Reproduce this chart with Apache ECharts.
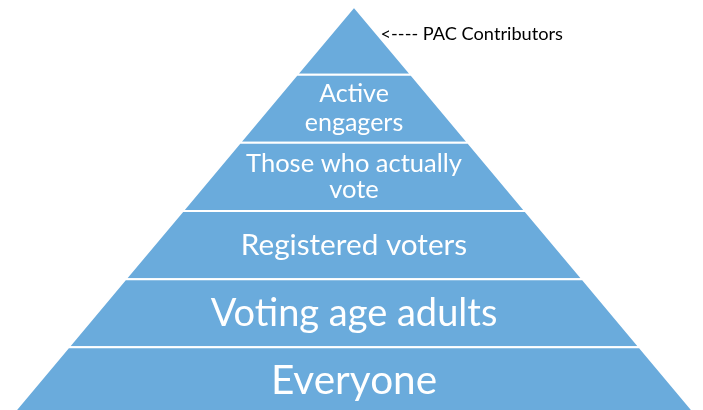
<!DOCTYPE html>
<html>
<head>
<meta charset="utf-8">
<script src="https://cdn.jsdelivr.net/npm/echarts@6/dist/echarts.min.js"></script>
<style>
  html, body { margin: 0; padding: 0; background: #ffffff; }
  #chart { width: 703px; height: 410px; }
</style>
</head>
<body>
<div id="chart"></div>
<script>
// Tiers of political participation, narrowest at the top
const tiers = ['PAC Contributors', 'Active engagers', 'Those who actually vote', 'Registered voters', 'Voting age adults', 'Everyone'];
// Relative size of each tier (width of its lower edge)
const tierSize = [1, 2, 3, 4, 5, 6];
// Text written on each tier
const tierText = ['<---- PAC Contributors', 'Active\nengagers', 'Those who actually\nvote', 'Registered voters', 'Voting age adults', 'Everyone'];

// Label styling per tier
const fontSizes = [18.2, 25, 25.5, 29.7, 38, 40.5];
const lineHeights = [12, 29, 26, 34, 42, 46];

const chart = echarts.init(document.getElementById('chart'), null, { renderer: 'canvas' });

const seriesData = tiers.map((name, i) => {
  const isTop = i === 0;
  return {
    name: name,
    value: tierSize[i],
    label: isTop ? {
      position: 'right',
      color: '#000000',
      fontSize: fontSizes[i],
      lineHeight: lineHeights[i],
      // trailing blank line lifts the pointer text toward the apex
      formatter: () => tierText[i] + '\n\u00a0'
    } : {
      position: 'inside',
      color: '#ffffff',
      fontSize: fontSizes[i],
      lineHeight: lineHeights[i],
      formatter: () => tierText[i]
    },
    labelLine: { show: false, length: -7 }
  };
});

chart.setOption({
  animation: false,
  backgroundColor: '#ffffff',
  series: [{
    type: 'funnel',
    sort: 'ascending',
    min: 0,
    max: 6,
    minSize: '0%',
    maxSize: '100%',
    left: 11.2,
    top: 6.5,
    width: 685.6,
    height: 409,
    gap: 0,
    funnelAlign: 'center',
    itemStyle: {
      color: '#6aabdc',
      borderColor: '#ffffff',
      borderWidth: 2
    },
    label: {
      fontFamily: 'Lato',
      fontWeight: 'normal'
    },
    emphasis: { disabled: true },
    data: seriesData
  }]
});
</script>
</body>
</html>
